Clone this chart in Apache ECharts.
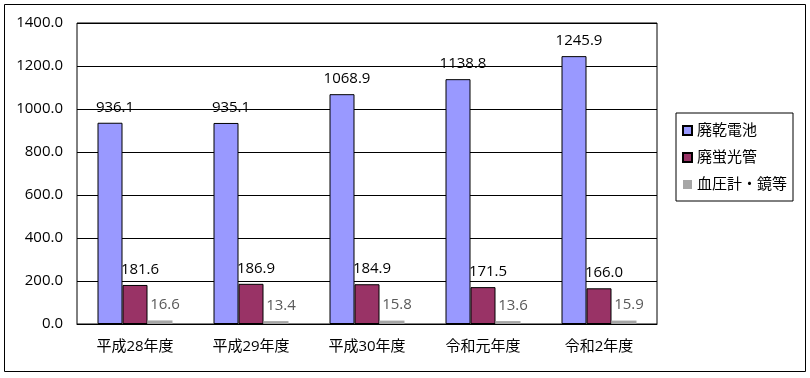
<!DOCTYPE html>
<html>
<head>
    <meta charset="utf-8">
    <script src="https://cdn.jsdelivr.net/npm/echarts@6/dist/echarts.min.js"></script>
    <style>
        html, body { margin: 0; padding: 0; background: #fff; }
        #main { width: 810px; height: 378px; }
    </style>
</head>
<body>
<div id="main"></div>
<script>
    // 年度
    var years = ['平成28年度', '平成29年度', '平成30年度', '令和元年度', '令和2年度'];
    // 各品目の値
    var dryBattery = [936.1, 935.1, 1068.9, 1138.8, 1245.9];
    var fluorescent = [181.6, 186.9, 184.9, 171.5, 166.0];
    var thermometer = [16.6, 13.4, 15.8, 13.6, 15.9];
    var yTicks = [0, 200, 400, 600, 800, 1000, 1200, 1400];

    var font = 'Open Sans, "Noto Sans CJK JP", sans-serif';

    function barLabel(color) {
        return {
            show: true,
            position: 'top',
            distance: 8,
            offset: [5, 0],
            color: color,
            fontSize: 15,
            fontFamily: font,
            formatter: function (p) { return p.value.toFixed(1); }
        };
    }

    var myChart = echarts.init(document.getElementById('main'));
    myChart.setOption({
        animation: false,
        backgroundColor: '#fff',
        graphic: [{
            type: 'rect',
            shape: { x: 4.5, y: 4.5, width: 801, height: 367 },
            style: { fill: 'none', stroke: '#000', lineWidth: 1 }
        }],
        grid: {
            left: 77, right: 153, top: 23, bottom: 54,
            show: true, borderColor: '#000', borderWidth: 1
        },
        legend: {
            orient: 'vertical',
            left: 676, top: 113,
            itemWidth: 9, itemHeight: 9, itemGap: 12,
            padding: [10, 6, 9, 6],
            borderColor: '#000', borderWidth: 1,
            icon: 'rect',
            textStyle: { fontSize: 15, color: '#000', fontFamily: font },
            data: ['廃乾電池', '廃蛍光管', '血圧計・鏡等']
        },
        xAxis: {
            type: 'category',
            data: years,
            axisLine: { lineStyle: { color: '#000' } },
            axisTick: { inside: true, length: 6, lineStyle: { color: '#000' } },
            axisLabel: { fontSize: 15, color: '#000', margin: 15, fontFamily: font }
        },
        yAxis: {
            type: 'value',
            min: yTicks[0],
            max: yTicks[yTicks.length - 1],
            interval: 200,
            axisLine: { show: false },
            splitLine: { lineStyle: { color: '#000' } },
            axisLabel: {
                fontSize: 15, color: '#000', margin: 14, fontFamily: font,
                formatter: function (v) { return v.toFixed(1); }
            }
        },
        series: [
            {
                name: '廃乾電池', type: 'bar', data: dryBattery,
                barWidth: 25, barGap: '0%',
                itemStyle: { color: '#9999ff', borderColor: '#000', borderWidth: 1 },
                label: barLabel('#000')
            },
            {
                name: '廃蛍光管', type: 'bar', data: fluorescent,
                barWidth: 25, barGap: '0%',
                itemStyle: { color: '#993366', borderColor: '#000', borderWidth: 1 },
                label: barLabel('#000')
            },
            {
                name: '血圧計・鏡等', type: 'bar', data: thermometer,
                barWidth: 25, barGap: '0%',
                itemStyle: { color: '#a6a6a6' },
                label: barLabel('#595959')
            }
        ]
    });
</script>
</body>
</html>
